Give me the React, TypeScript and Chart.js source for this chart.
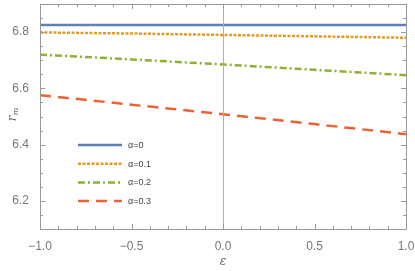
import React, { useEffect, useRef } from "react";
import { Chart, registerables } from "chart.js";

Chart.register(...registerables);

const epsValues = [-1, -0.5, 0, 0.5, 1];
const alphaLabels = ["α=0", "α=0.1", "α=0.2", "α=0.3"];
const seriesA0 = [6.825, 6.825, 6.825, 6.825, 6.825];
const seriesA1 = [6.799, 6.795, 6.790, 6.785, 6.780];
const seriesA2 = [6.720, 6.703, 6.685, 6.666, 6.647];
const seriesA3 = [6.576, 6.542, 6.508, 6.473, 6.437];
const yTicks = [6.2, 6.4, 6.6, 6.8];
const xTicks = [-1, -0.5, 0, 0.5, 1];

const colors = ["#5E81B5", "#E19C24", "#8FB032", "#EB6235"];
const dashes: number[][] = [[], [3, 1.5], [7, 3, 2, 3], [11, 7]];

const framePlugin = {
  id: "frame",
  afterDraw(chart: any) {
    const { ctx, chartArea: a, scales } = chart;
    const xs = scales.x, ys = scales.y;
    ctx.save();
    ctx.strokeStyle = "#b0b0b0";
    ctx.lineWidth = 1;
    const x0 = Math.round(xs.getPixelForValue(0)) + 0.5;
    ctx.beginPath();
    ctx.moveTo(x0, a.top);
    ctx.lineTo(x0, a.bottom);
    ctx.stroke();
    ctx.strokeStyle = "#999";
    ctx.beginPath();
    ctx.rect(Math.round(a.left) + 0.5, Math.round(a.top) + 0.5, Math.round(a.right - a.left), Math.round(a.bottom - a.top));
    ctx.stroke();
    for (let i = -10; i <= 10; i++) {
      const v = i / 10;
      const major = i % 5 === 0;
      const len = major ? 5 : 3;
      const px = Math.round(xs.getPixelForValue(v)) + 0.5;
      ctx.beginPath();
      ctx.moveTo(px, a.bottom);
      ctx.lineTo(px, a.bottom - len);
      ctx.moveTo(px, a.top);
      ctx.lineTo(px, a.top + len);
      ctx.stroke();
    }
    for (let i = 0; i <= 16; i++) {
      const v = 6.1 + i * 0.05;
      const major = i % 4 === 2;
      const len = major ? 5 : 3;
      const py = Math.round(ys.getPixelForValue(v)) + 0.5;
      ctx.beginPath();
      ctx.moveTo(a.left, py);
      ctx.lineTo(a.left + len, py);
      ctx.moveTo(a.right, py);
      ctx.lineTo(a.right - len, py);
      ctx.stroke();
    }
    const lx = 78, lw = 44, ly0 = 145, dy = 18.7;
    ctx.font = "9px 'Liberation Sans', Arial, sans-serif";
    ctx.textBaseline = "middle";
    for (let i = 0; i < alphaLabels.length; i++) {
      const y = ly0 + i * dy;
      ctx.strokeStyle = colors[i];
      ctx.lineWidth = 2.5;
      ctx.setLineDash(dashes[i]);
      ctx.beginPath();
      ctx.moveTo(lx, y);
      ctx.lineTo(lx + lw, y);
      ctx.stroke();
      ctx.setLineDash([]);
      ctx.fillStyle = "#444";
      ctx.fillText(alphaLabels[i], lx + 50, y + 0.5);
    }
    ctx.fillStyle = "#666";
    ctx.font = "italic 12px 'DejaVu Serif', serif";
    ctx.textAlign = "center";
    ctx.fillText("ε", (a.left + a.right) / 2, 262);
    ctx.save();
    ctx.translate(13, (a.top + a.bottom) / 2);
    ctx.rotate(-Math.PI / 2);
    ctx.font = "italic 12px 'DejaVu Serif', serif";
    ctx.textAlign = "center";
    ctx.fillText("r", -2, 0);
    ctx.font = "italic 8px 'DejaVu Serif', serif";
    ctx.fillText("m", 5, 3);
    ctx.restore();
    ctx.restore();
  },
};

export default function App() {
  const ref = useRef<HTMLCanvasElement>(null);
  useEffect(() => {
    document.body.style.margin = "0";
    const series = [seriesA0, seriesA1, seriesA2, seriesA3];
    const chart = new Chart(ref.current!, {
      type: "line",
      data: {
        datasets: series.map((s, i) => ({
          label: alphaLabels[i],
          data: s.map((y, j) => ({ x: epsValues[j], y })),
          borderColor: colors[i],
          borderWidth: 2.5,
          borderDash: dashes[i],
          pointRadius: 0,
          tension: 0,
          fill: false,
        })),
      },
      options: {
        responsive: false,
        animation: false,
        events: [],
        layout: { padding: { top: 4, right: 9, left: 0, bottom: 0 } },
        plugins: { legend: { display: false }, tooltip: { enabled: false } },
        scales: {
          x: {
            type: "linear",
            min: -1,
            max: 1,
            grid: { display: false },
            border: { display: false },
            afterBuildTicks: (s: any) => { s.ticks = xTicks.map((v) => ({ value: v })); },
            afterFit: (s: any) => { s.height = 42; s.paddingLeft = 0; s.paddingRight = 0; },
            ticks: {
              color: "#777",
              font: { size: 12, family: "'Liberation Sans', Arial, sans-serif" },
              padding: 2,
              maxRotation: 0,
              callback: (v: any) => (Number(v) < 0 ? "−" : "") + Math.abs(Number(v)).toFixed(1),
            },
          },
          y: {
            type: "linear",
            min: 6.1,
            max: 6.9,
            grid: { display: false },
            border: { display: false },
            afterBuildTicks: (s: any) => { s.ticks = yTicks.map((v) => ({ value: v })); },
            afterFit: (s: any) => { s.width = 40; s.paddingTop = 0; s.paddingBottom = 0; },
            ticks: {
              color: "#777",
              font: { size: 12, family: "'Liberation Sans', Arial, sans-serif" },
              padding: 3,
              callback: (v: any) => Number(v).toFixed(1),
            },
          },
        },
      },
      plugins: [framePlugin],
    });
    return () => chart.destroy();
  }, []);
  return <canvas ref={ref} width={415} height={271} style={{ display: "block" }} />;
}
